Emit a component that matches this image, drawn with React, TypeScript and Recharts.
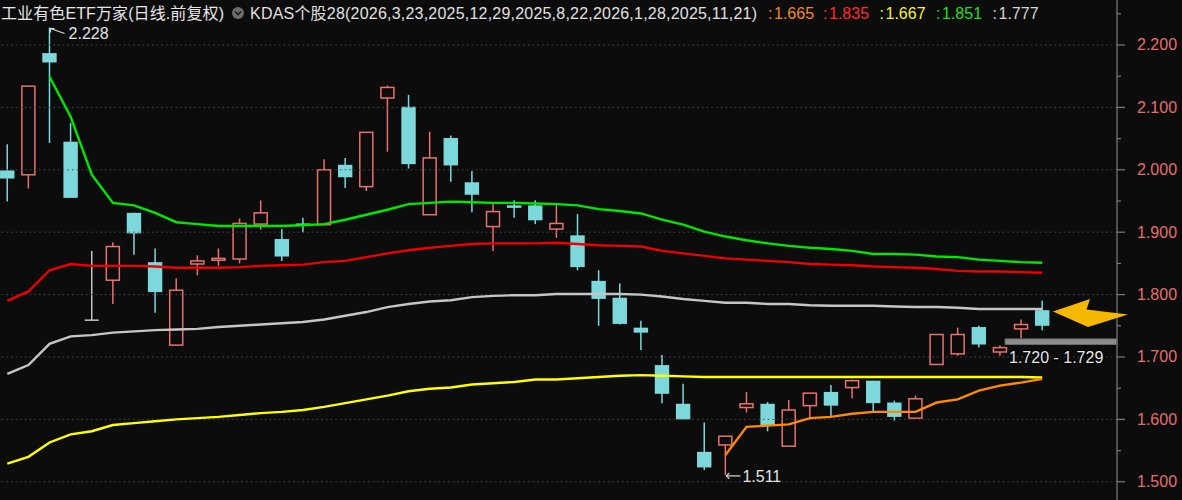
import { ComposedChart, Bar, Line, XAxis, YAxis, ReferenceLine, ReferenceArea, ReferenceDot } from 'recharts'

const opens = [1.999, 1.992, 2.187, 2.045, 1.759, 1.823, 1.931, 1.852, 1.719, 1.849, 1.855, 1.857, 1.913, 1.889, 1.914, 1.912, 2.008, 1.973, 2.115, 2.101, 1.928, 2.051, 1.980, 1.909, 1.943, 1.943, 1.905, 1.895, 1.822, 1.795, 1.747, 1.687, 1.625, 1.548, 1.559, 1.619, 1.625, 1.557, 1.622, 1.644, 1.651, 1.662, 1.627, 1.602, 1.688, 1.705, 1.748, 1.708, 1.745, 1.775]
const highs = [2.041, 2.134, 2.228, 2.075, 1.870, 1.884, 1.931, 1.874, 1.826, 1.863, 1.874, 1.922, 1.951, 1.905, 1.923, 2.017, 2.019, 2.060, 2.135, 2.120, 2.061, 2.055, 1.998, 1.946, 1.951, 1.951, 1.946, 1.929, 1.839, 1.818, 1.758, 1.703, 1.657, 1.595, 1.573, 1.644, 1.628, 1.631, 1.642, 1.655, 1.664, 1.662, 1.630, 1.638, 1.736, 1.747, 1.750, 1.719, 1.760, 1.790]
const lows = [1.949, 1.970, 2.043, 1.955, 1.759, 1.785, 1.864, 1.771, 1.719, 1.831, 1.846, 1.850, 1.904, 1.854, 1.900, 1.912, 1.971, 1.966, 2.029, 2.002, 1.928, 1.981, 1.932, 1.870, 1.923, 1.913, 1.891, 1.839, 1.750, 1.752, 1.711, 1.626, 1.600, 1.519, 1.511, 1.611, 1.581, 1.557, 1.600, 1.605, 1.634, 1.612, 1.598, 1.602, 1.688, 1.702, 1.715, 1.702, 1.730, 1.743]
const closes = [1.986, 2.134, 2.172, 1.955, 1.759, 1.877, 1.898, 1.804, 1.807, 1.854, 1.858, 1.914, 1.931, 1.861, 1.911, 2.000, 1.988, 2.060, 2.132, 2.009, 2.019, 2.007, 1.960, 1.933, 1.939, 1.919, 1.914, 1.844, 1.793, 1.753, 1.739, 1.641, 1.600, 1.523, 1.573, 1.625, 1.591, 1.615, 1.642, 1.622, 1.662, 1.626, 1.604, 1.633, 1.736, 1.736, 1.720, 1.715, 1.752, 1.750]

const kdasOrange = [null, null, null, null, null, null, null, null, null, null, null, null, null, null, null, null, null, null, null, null, null, null, null, null, null, null, null, null, null, null, null, null, null, null, 1.543, 1.588, 1.590, 1.592, 1.602, 1.604, 1.609, 1.612, 1.612, 1.612, 1.627, 1.632, 1.646, 1.654, 1.659, 1.665]
const kdasRed = [1.790, 1.805, 1.839, 1.849, 1.846, 1.846, 1.846, 1.845, 1.843, 1.843, 1.843, 1.844, 1.846, 1.847, 1.848, 1.852, 1.854, 1.860, 1.866, 1.871, 1.875, 1.878, 1.881, 1.882, 1.882, 1.882, 1.883, 1.881, 1.879, 1.878, 1.877, 1.870, 1.866, 1.862, 1.858, 1.856, 1.854, 1.852, 1.849, 1.848, 1.847, 1.845, 1.844, 1.843, 1.841, 1.838, 1.837, 1.837, 1.836, 1.835]
const kdasYellow = [1.529, 1.540, 1.563, 1.576, 1.581, 1.591, 1.594, 1.597, 1.600, 1.602, 1.604, 1.607, 1.610, 1.612, 1.615, 1.620, 1.626, 1.632, 1.638, 1.645, 1.649, 1.651, 1.656, 1.658, 1.660, 1.664, 1.664, 1.666, 1.668, 1.670, 1.671, 1.670, 1.669, 1.668, 1.668, 1.668, 1.668, 1.668, 1.668, 1.668, 1.668, 1.668, 1.668, 1.668, 1.668, 1.668, 1.668, 1.668, 1.668, 1.667]
const kdasGreen = [null, null, 2.149, 2.085, 1.992, 1.947, 1.943, 1.931, 1.916, 1.913, 1.910, 1.910, 1.910, 1.910, 1.911, 1.913, 1.920, 1.928, 1.936, 1.945, 1.947, 1.949, 1.948, 1.947, 1.947, 1.946, 1.945, 1.943, 1.937, 1.934, 1.930, 1.920, 1.912, 1.901, 1.893, 1.887, 1.882, 1.878, 1.875, 1.873, 1.870, 1.865, 1.865, 1.864, 1.861, 1.860, 1.856, 1.854, 1.852, 1.851]
const kdasGrey = [1.673, 1.687, 1.721, 1.733, 1.735, 1.739, 1.741, 1.743, 1.744, 1.745, 1.748, 1.750, 1.752, 1.754, 1.756, 1.760, 1.766, 1.772, 1.780, 1.785, 1.789, 1.791, 1.796, 1.798, 1.799, 1.799, 1.801, 1.801, 1.801, 1.801, 1.800, 1.797, 1.793, 1.790, 1.787, 1.787, 1.785, 1.785, 1.783, 1.782, 1.782, 1.782, 1.781, 1.780, 1.780, 1.779, 1.777, 1.777, 1.777, 1.777]

const majorTicks = [1.5, 1.6, 1.7, 1.8, 1.9, 2.0, 2.1, 2.2]
const minorTicks = [1.55, 1.65, 1.75, 1.85, 1.95, 2.05, 2.15, 2.25]
const zone = [1.72, 1.729]
const anchors = '2026,3,23,2025,12,29,2025,8,22,2026,1,28,2025,11,21'

const X_MIN = -0.3456
const X_MAX = 52.54
const Y_MIN = 1.4708
const Y_MAX = 2.2721
const ZONE_START = 47.24

const UP = '#e8716f'
const DOWN = '#7dd8db'
const FLAT = '#c4c4c4'
const FONT = "'Liberation Sans', Arial, 'Noto Sans CJK SC', sans-serif"

const data = opens.map((open, i) => ({
  i,
  open,
  high: highs[i],
  low: lows[i],
  close: closes[i],
  range: [lows[i], highs[i]],
  orange: kdasOrange[i],
  red: kdasRed[i],
  yellow: kdasYellow[i],
  green: kdasGreen[i],
  grey: kdasGrey[i],
}))

const hiIdx = highs.indexOf(Math.max(...highs))
const loIdx = lows.indexOf(Math.min(...lows))

const Candle = (props: any) => {
  const { x, y, width, height, payload } = props
  const { open, close, high, low } = payload
  const top = Math.min(y, y + height)
  const h = Math.abs(height)
  const k = high === low ? 0 : h / (high - low)
  const py = (v: number) => top + (high - v) * k
  const cx = x + width / 2
  const bodyTop = py(Math.max(open, close))
  const bodyBot = py(Math.min(open, close))
  if (open === close) {
    return (
      <g>
        <line x1={cx} x2={cx} y1={py(high)} y2={py(low)} stroke={FLAT} strokeWidth={1.5} />
        <line x1={cx - 7} x2={cx + 7} y1={bodyTop} y2={bodyTop} stroke={FLAT} strokeWidth={1.5} />
      </g>
    )
  }
  if (close > open) {
    return (
      <g>
        <line x1={cx} x2={cx} y1={py(high)} y2={bodyTop} stroke={UP} strokeWidth={1.5} />
        <line x1={cx} x2={cx} y1={bodyBot} y2={py(low)} stroke={UP} strokeWidth={1.5} />
        <rect x={cx - 6.5} y={bodyTop} width={13} height={Math.max(bodyBot - bodyTop, 1)} fill="none" stroke={UP} strokeWidth={1.5} />
      </g>
    )
  }
  return (
    <g>
      <line x1={cx} x2={cx} y1={py(high)} y2={py(low)} stroke={DOWN} strokeWidth={1.5} />
      <rect x={cx - 7.2} y={bodyTop} width={14.4} height={Math.max(bodyBot - bodyTop, 2)} fill={DOWN} />
    </g>
  )
}

const AxisTick = (props: any) => {
  const { x, y, payload } = props
  const major = majorTicks.includes(payload.value)
  return (
    <g>
      <line x1={x} x2={x + (major ? 8 : 4)} y1={y} y2={y} stroke="#7c7c7c" strokeWidth={1.2} />
      {major && (
        <text x={x + 20} y={y} dy={5.5} fill="#e46f6c" fontSize={16} fontFamily={FONT}>
          {payload.value.toFixed(3)}
        </text>
      )}
    </g>
  )
}

const HighMark = (props: any) => {
  const { cx, cy } = props
  return (
    <g>
      <polyline points={`${cx + 5},${cy + 1} ${cx + 1},${cy + 1} ${cx + 1},${cy + 5}`} fill="none" stroke="#dcdcdc" strokeWidth={1.2} />
      <line x1={cx + 1} y1={cy + 1} x2={cx + 15} y2={cy + 6} stroke="#dcdcdc" strokeWidth={1.2} />
      <text x={cx + 19} y={cy + 11.5} fill="#e4e4e4" fontSize={16} fontFamily={FONT}>
        {highs[hiIdx].toFixed(3)}
      </text>
    </g>
  )
}

const LowMark = (props: any) => {
  const { cx, cy } = props
  return (
    <g>
      <polyline points={`${cx + 4},${cy - 2} ${cx + 1},${cy + 1} ${cx + 4},${cy + 4}`} fill="none" stroke="#dcdcdc" strokeWidth={1.2} />
      <line x1={cx + 1} y1={cy + 1} x2={cx + 15} y2={cy + 1} stroke="#dcdcdc" strokeWidth={1.2} />
      <text x={cx + 17} y={cy + 7} fill="#e4e4e4" fontSize={16} fontFamily={FONT}>
        {lows[loIdx].toFixed(3)}
      </text>
    </g>
  )
}

const last = (arr: (number | null)[]) => (arr[arr.length - 1] as number).toFixed(3)

const legend = [
  { x: 768, value: last(kdasOrange), color: '#f08a1c' },
  { x: 823, value: last(kdasRed), color: '#ff2a2a' },
  { x: 879.5, value: last(kdasYellow), color: '#f4f42a' },
  { x: 936, value: last(kdasGreen), color: '#22dd22' },
  { x: 992.5, value: last(kdasGrey), color: '#d6d6d6' },
]

const series = [
  { key: 'grey', color: '#c6c6c6' },
  { key: 'yellow', color: '#ffff00' },
  { key: 'red', color: '#f00000' },
  { key: 'green', color: '#00e800' },
  { key: 'orange', color: '#ff8a00' },
]

export default function App() {
  const ticks = [...majorTicks, ...minorTicks].sort((a, b) => a - b)
  return (
    <div style={{ position: 'absolute', left: 0, top: 0, width: 1182, height: 500, background: '#0c0c0c', overflow: 'hidden' }}>
      <ComposedChart width={1182} height={500} data={data} margin={{ top: 0, right: 0, bottom: 0, left: 0 }}>
        <XAxis dataKey="i" type="number" domain={[X_MIN, X_MAX]} allowDataOverflow hide />
        <YAxis
          orientation="right"
          type="number"
          width={65}
          domain={[Y_MIN, Y_MAX]}
          allowDataOverflow
          ticks={ticks}
          interval={0}
          tickSize={0}
          tickMargin={0}
          tick={<AxisTick />}
          axisLine={{ stroke: '#666', strokeWidth: 1.5 }}
        />
        {majorTicks.map(t => (
          <ReferenceLine key={t} y={t} stroke="#4a4a4a" strokeDasharray="1.5 3.2" />
        ))}
        <ReferenceArea x1={ZONE_START} x2={X_MAX} y1={zone[0]} y2={zone[1]} fill="#8c8c8c" fillOpacity={1} stroke="#6a6a6a" />
        <Bar dataKey="range" barSize={15} shape={<Candle />} isAnimationActive={false} />
        {series.map(s => (
          <Line
            key={s.key}
            dataKey={s.key}
            stroke={s.color}
            strokeWidth={2.4}
            dot={false}
            activeDot={false}
            isAnimationActive={false}
          />
        ))}
        <ReferenceDot x={hiIdx} y={highs[hiIdx]} r={0} shape={<HighMark />} />
        <ReferenceDot x={loIdx} y={lows[loIdx]} r={0} shape={<LowMark />} />
      </ComposedChart>
      <svg width={1182} height={500} style={{ position: 'absolute', left: 0, top: 0, pointerEvents: 'none' }} fontFamily={FONT} fontSize={16}>
        <text x={1} y={19} fill="#e6e6e6" textLength={223} lengthAdjust="spacing">工业有色ETF万家(日线.前复权)</text>
        <circle cx={238} cy={13} r={6} fill="#6c6c6c" />
        <polyline points="235,11.5 238,14.5 241,11.5" fill="none" stroke="#1c1c1c" strokeWidth={1.6} />
        <text x={250} y={19} fill="#e0e0e0" textLength={507} lengthAdjust="spacing">
          {`KDAS个股28(${anchors})`}
        </text>
        {legend.map(l => (
          <g key={l.x}>
            <text x={l.x} y={19} fill={l.color}>:</text>
            <text x={l.x + 6} y={19} fill={l.color}>{l.value}</text>
          </g>
        ))}
        <text x={1009} y={363} fill="#e8e8e8" stroke="#000" strokeWidth={2.5} paintOrder="stroke">
          {`${zone[0].toFixed(3)} - ${zone[1].toFixed(3)}`}
        </text>
        <polygon points="1053,311.5 1090,299 1086.5,309.5 1128,314.5 1088,327" fill="#f6b800" />
      </svg>
    </div>
  )
}
